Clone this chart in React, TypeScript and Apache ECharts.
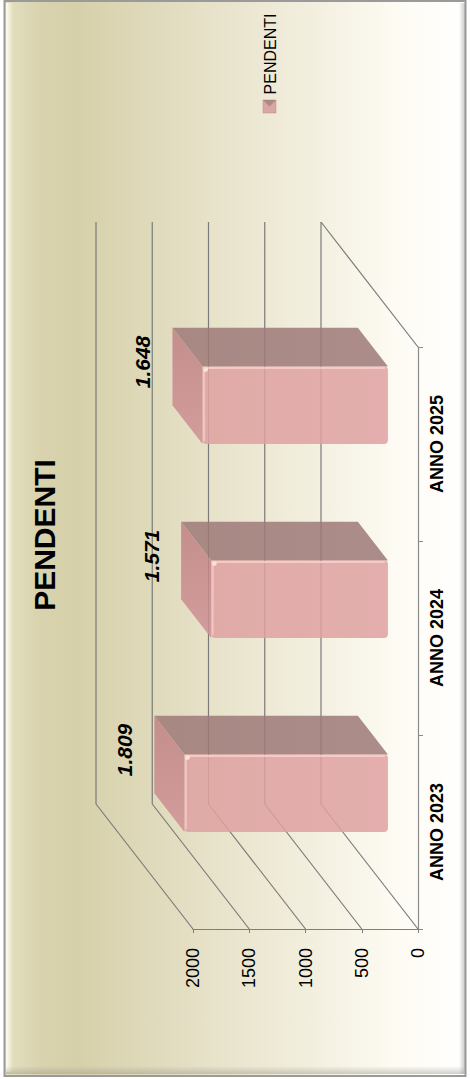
import React, { useEffect, useRef } from "react";
import * as echarts from "echarts";

const categories = ["ANNO 2023", "ANNO 2024", "ANNO 2025"];
const values = [1809, 1571, 1648];
const valueLabels = ["1.809", "1.571", "1.648"];
const valueTicks = [0, 500, 1000, 1500, 2000];
const seriesName = "PENDENTI";
const chartTitle = "PENDENTI";

const FONT = "'Liberation Sans', Arial, sans-serif";
const DX = -97;
const DY = -125;
const D1 = 0.31;
const D2 = 0.62;

export default function App() {
  const ref = useRef<HTMLDivElement>(null);
  useEffect(() => {
    if (!ref.current) return;
    const chart = echarts.init(ref.current, null, { renderer: "svg" });
    const option: any = {
      animation: false,
      grid: { left: 193, right: 52, top: 347, bottom: 150 },
      xAxis: {
        type: "value",
        min: 0,
        max: 2000,
        interval: 500,
        inverse: true,
        position: "bottom",
        axisLine: { show: true, lineStyle: { color: "#7e7e7e", width: 1.2 } },
        axisTick: { show: true, length: 4, lineStyle: { color: "#7e7e7e" } },
        splitLine: { show: false },
        axisLabel: {
          rotate: 90,
          margin: 19,
          fontSize: 18,
          color: "#000",
          fontFamily: FONT,
          formatter: (v: number) => String(v),
        },
      },
      yAxis: {
        type: "category",
        data: categories,
        position: "right",
        axisLine: { show: true, onZero: false, lineStyle: { color: "#8a8a8a", width: 1.2 } },
        axisTick: { show: true, length: 5, lineStyle: { color: "#8a8a8a" } },
        axisLabel: { rotate: 90, margin: 10, fontSize: 18, fontWeight: "bold", color: "#000", fontFamily: FONT },
      },
      graphic: [
        {
          type: "rect",
          z: -10,
          shape: { x: 4.5, y: 1, width: 461, height: 1075 },
          style: {
            fill: new echarts.graphic.LinearGradient(0, 0, 1, 0, [
              { offset: 0, color: "#e4e0c0" },
              { offset: 0.08, color: "#d8d2ae" },
              { offset: 0.16, color: "#d6d0aa" },
              { offset: 0.4, color: "#e4dfc4" },
              { offset: 0.65, color: "#f2eedd" },
              { offset: 0.85, color: "#fdfbf3" },
              { offset: 1, color: "#ffffff" },
            ]),
            stroke: "#9a9a9a",
            lineWidth: 2,
          },
        },
        {
          type: "rect",
          z: -9,
          shape: { x: 6, y: 3, width: 7, height: 1069 },
          style: {
            fill: new echarts.graphic.LinearGradient(0, 0, 1, 0, [
              { offset: 0, color: "rgba(255,255,240,0.95)" },
              { offset: 1, color: "rgba(255,255,240,0)" },
            ]),
          },
        },
        {
          type: "rect",
          z: -9,
          shape: { x: 6, y: 1066, width: 458, height: 8 },
          style: {
            fill: new echarts.graphic.LinearGradient(0, 0, 0, 1, [
              { offset: 0, color: "rgba(150,150,140,0)" },
              { offset: 1, color: "rgba(150,150,140,0.45)" },
            ]),
          },
        },
        {
          type: "rect",
          z: -9,
          shape: { x: 459, y: 3, width: 6, height: 1071 },
          style: {
            fill: new echarts.graphic.LinearGradient(0, 0, 1, 0, [
              { offset: 0, color: "rgba(150,150,140,0)" },
              { offset: 1, color: "rgba(150,150,140,0.5)" },
            ]),
          },
        },
        {
          type: "text",
          z: 10,
          x: 44,
          y: 535,
          rotation: Math.PI / 2,
          style: {
            text: chartTitle,
            fill: "#000",
            fontSize: 30,
            fontWeight: "bold",
            fontFamily: FONT,
            align: "center",
            verticalAlign: "middle",
          },
        },
        {
          type: "rect",
          z: 10,
          shape: { x: 263, y: 100, width: 13, height: 13 },
          style: { fill: "#d9a6a4", stroke: "#b98a88", lineWidth: 0.5 },
        },
        {
          type: "polygon",
          z: 11,
          shape: { points: [[263, 100], [276, 100], [269.5, 106.5]] },
          style: { fill: "rgba(140,110,108,0.55)" },
        },
        {
          type: "text",
          z: 10,
          x: 270,
          y: 54,
          rotation: Math.PI / 2,
          style: {
            text: seriesName,
            fill: "#000",
            fontSize: 16,
            fontFamily: FONT,
            align: "center",
            verticalAlign: "middle",
          },
        },
      ],
      series: [
        {
          type: "custom",
          name: "frame",
          silent: true,
          clip: false,
          z: 1,
          data: valueTicks.map((v) => [v, categories[0]]),
          renderItem: (params: any, api: any) => {
            const cs = params.coordSys;
            const v = api.value(0);
            const x = api.coord([v, categories[0]])[0];
            const bottomY = cs.y + cs.height;
            const topY = cs.y;
            const ls = { stroke: "#7a7a7a", lineWidth: 1.2 };
            const children: any[] = [
              { type: "line", shape: { x1: x, y1: bottomY, x2: x + DX, y2: bottomY + DY }, style: ls },
              { type: "line", shape: { x1: x + DX, y1: bottomY + DY, x2: x + DX, y2: topY + DY }, style: ls },
            ];
            if (v === 0) {
              children.push({ type: "line", shape: { x1: x, y1: topY, x2: x + DX, y2: topY + DY }, style: ls });
            }
            return { type: "group", children };
          },
        },
        {
          type: "custom",
          name: seriesName,
          clip: false,
          z: 3,
          data: values.map((v, i) => [v, categories[i]]),
          renderItem: (params: any, api: any) => {
            const idx = params.dataIndex;
            const v = api.value(0);
            const p0 = api.coord([0, categories[idx]]);
            const pv = api.coord([v, categories[idx]]);
            const band = api.size([0, 1])[1];
            const hw = band * 0.2;
            const fx0 = pv[0] + D1 * DX;
            const fx1 = p0[0] + D1 * DX;
            const fyT = p0[1] - hw + D1 * DY;
            const fyB = p0[1] + hw + D1 * DY;
            const bx0 = pv[0] + D2 * DX;
            const bx1 = p0[0] + D2 * DX;
            const byT = p0[1] - hw + D2 * DY;
            const byB = p0[1] + hw + D2 * DY;
            return {
              type: "group",
              children: [
                {
                  type: "polygon",
                  shape: { points: [[fx0, fyT], [fx1, fyT], [bx1, byT], [bx0, byT]] },
                  style: { fill: "rgba(158,121,120,0.85)" },
                },
                {
                  type: "polygon",
                  shape: { points: [[fx0, fyT], [bx0, byT], [bx0, byB], [fx0, fyB]] },
                  style: {
                    fill: new echarts.graphic.LinearGradient(0, 0, 0, 1, [
                      { offset: 0, color: "rgba(190,128,130,0.85)" },
                      { offset: 1, color: "rgba(206,145,148,0.85)" },
                    ]),
                  },
                },
                {
                  type: "rect",
                  shape: { x: fx0, y: fyT, width: fx1 - fx0, height: fyB - fyT, r: 4 },
                  style: { fill: "rgba(222,161,161,0.85)" },
                },
                {
                  type: "line",
                  shape: { x1: fx0 + 4, y1: fyT + 1.5, x2: fx1 - 3, y2: fyT + 1.5 },
                  style: { stroke: "rgba(255,214,212,0.7)", lineWidth: 2 },
                },
                {
                  type: "line",
                  shape: { x1: fx0 + 1.5, y1: fyT + 4, x2: fx0 + 1.5, y2: fyB - 3 },
                  style: { stroke: "rgba(255,214,212,0.6)", lineWidth: 2 },
                },
                {
                  type: "circle",
                  shape: { cx: fx0 + 3, cy: fyT + 3, r: 2.5 },
                  style: { fill: "rgba(255,235,232,0.8)" },
                },
                {
                  type: "text",
                  x: bx0 - 30,
                  y: p0[1] - 82,
                  rotation: Math.PI / 2,
                  style: {
                    text: valueLabels[idx],
                    fill: "#000",
                    fontSize: 21,
                    fontWeight: "bold",
                    fontStyle: "italic",
                    fontFamily: FONT,
                    align: "center",
                    verticalAlign: "middle",
                  },
                },
              ],
            };
          },
        },
      ],
    };
    chart.setOption(option);
    return () => chart.dispose();
  }, []);
  return (
    <div
      ref={ref}
      style={{ position: "fixed", left: 0, top: 0, width: 470, height: 1079, background: "#ffffff" }}
    />
  );
}
